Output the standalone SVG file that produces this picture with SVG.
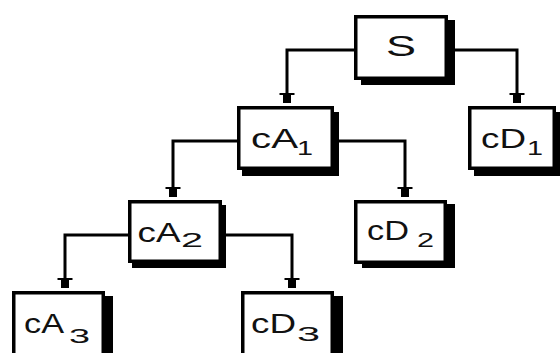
<svg xmlns="http://www.w3.org/2000/svg" width="560" height="353" viewBox="0 0 560 353">
  <style>
    .box { fill: #ffffff; stroke: #000000; stroke-width: 3.5; }
    .shadow { fill: #000000; }
    .conn { fill: none; stroke: #000000; stroke-width: 3; stroke-linejoin: miter; }
    .lbl { font-family: "Liberation Sans", Arial, sans-serif; font-size: 28px; fill: #111111; }
    .sub { font-family: "Liberation Sans", Arial, sans-serif; font-size: 20px; fill: #111111; }
  </style>
  <defs>
    <marker id="arrow" markerUnits="userSpaceOnUse" viewBox="0 0 11 16" markerWidth="11" markerHeight="16" refX="10.5" refY="8" orient="auto">
      <polygon points="0,0.5 2.5,0.5 2.5,4 10.5,4 10.5,12 2.5,12 2.5,15.5 0,15.5" fill="#000000"/>
    </marker>
  </defs>
  <rect width="560" height="353" fill="#ffffff"/>

  <g id="connectors">
    <path class="conn" d="M354,50 H287 V103" marker-end="url(#arrow)"/>
    <path class="conn" d="M448,50 H517 V103" marker-end="url(#arrow)"/>
    <path class="conn" d="M237,141 H173 V197" marker-end="url(#arrow)"/>
    <path class="conn" d="M334,141 H405 V197" marker-end="url(#arrow)"/>
    <path class="conn" d="M128,235 H65 V288" marker-end="url(#arrow)"/>
    <path class="conn" d="M222,235 H292 V288" marker-end="url(#arrow)"/>
  </g>

  <g id="node-S">
    <rect class="shadow" x="361" y="20" width="94" height="65"/>
    <rect class="box" x="355.75" y="16.75" width="90.5" height="61.5"/>
    <text class="lbl" x="386" y="56" style="font-size:30px" textLength="30" lengthAdjust="spacingAndGlyphs">S</text>
  </g>

  <g id="node-cA1">
    <rect class="shadow" x="242" y="112" width="97" height="64"/>
    <rect class="box" x="238.75" y="107.75" width="93.5" height="60.5"/>
    <text class="lbl" x="251" y="147.5" textLength="47" lengthAdjust="spacingAndGlyphs">cA</text>
    <text class="sub" x="297" y="154.5" textLength="16" lengthAdjust="spacingAndGlyphs">1</text>
  </g>

  <g id="node-cD1">
    <rect class="shadow" x="474" y="112" width="88" height="64"/>
    <rect class="box" x="469.75" y="107.75" width="84.5" height="60.5"/>
    <text class="lbl" x="481" y="147.5" textLength="45" lengthAdjust="spacingAndGlyphs">cD</text>
    <text class="sub" x="527" y="155" textLength="16" lengthAdjust="spacingAndGlyphs">1</text>
  </g>

  <g id="node-cA2">
    <rect class="shadow" x="132" y="205" width="94" height="63"/>
    <rect class="box" x="129.75" y="201.75" width="90.5" height="59.5"/>
    <text class="lbl" x="137.5" y="241.5" textLength="43" lengthAdjust="spacingAndGlyphs">cA</text>
    <text class="sub" x="181" y="246.5" textLength="22" lengthAdjust="spacingAndGlyphs">2</text>
  </g>

  <g id="node-cD2">
    <rect class="shadow" x="362" y="204" width="93" height="64"/>
    <rect class="box" x="355.75" y="201.75" width="89.5" height="60.5"/>
    <text class="lbl" x="367" y="240" textLength="42" lengthAdjust="spacingAndGlyphs">cD</text>
    <text class="sub" x="417" y="246.5" textLength="17" lengthAdjust="spacingAndGlyphs">2</text>
  </g>

  <g id="node-cA3">
    <rect class="shadow" x="20" y="296" width="93" height="74"/>
    <rect class="box" x="13.75" y="292.75" width="89.5" height="80"/>
    <text class="lbl" x="24" y="333" textLength="40" lengthAdjust="spacingAndGlyphs">cA</text>
    <text class="sub" x="69" y="343" textLength="21" lengthAdjust="spacingAndGlyphs">3</text>
  </g>

  <g id="node-cD3">
    <rect class="shadow" x="250" y="296" width="93" height="74"/>
    <rect class="box" x="242.75" y="292.75" width="89.5" height="80"/>
    <text class="lbl" x="251" y="333" textLength="45" lengthAdjust="spacingAndGlyphs">cD</text>
    <text class="sub" x="297" y="341" textLength="23" lengthAdjust="spacingAndGlyphs">3</text>
  </g>
</svg>
